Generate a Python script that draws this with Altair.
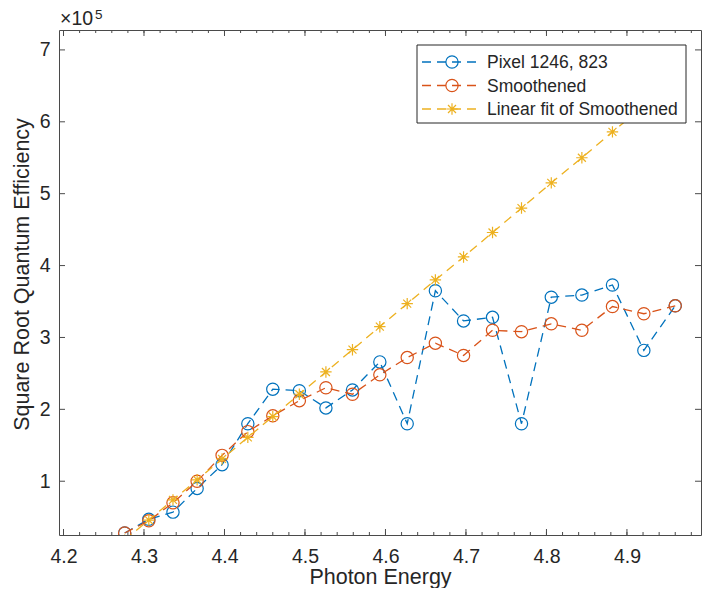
import altair as alt
import pandas as pd

# ---------------- data ----------------
energy = [4.276, 4.306, 4.336, 4.366, 4.397, 4.429, 4.460, 4.493, 4.526, 4.559, 4.593,
          4.627, 4.662, 4.697, 4.733, 4.769, 4.806, 4.844, 4.882, 4.921, 4.960]
pixel = [28000, 47000, 57000, 90000, 123000, 180000, 228000, 226000, 202000, 227000, 266000,
         180000, 365000, 323000, 328000, 180000, 356000, 359000, 373000, 282000, 344000]
smoothed = [28000, 45000, 70000, 100000, 136000, 169000, 191000, 212000, 230000, 221000, 248000,
            272000, 292000, 275000, 310000, 308000, 319000, 310000, 343000, 333000, 344000]
linear_fit = [18000, 46000, 74000, 102000, 131000, 161000, 190000, 221000, 252000, 283000, 315000,
              347000, 380000, 412000, 446000, 480000, 515000, 550000, 586000, 622000, 659000]

series_names = ["Pixel 1246, 823", "Smoothened", "Linear fit of Smoothened"]
series_colors = ["#0072BD", "#D95319", "#EDB120"]

x_major = [4.2, 4.3, 4.4, 4.5, 4.6, 4.7, 4.8, 4.9]
x_minor = [round(4.2 + 0.02 * i, 2) for i in range(40)]
y_major = [100000, 200000, 300000, 400000, 500000, 600000, 700000]

# ---------------- layout / style ----------------
W, H = 642, 505
FONT = "Liberation Sans"
TXT = "#262626"
AX = "#4a4a4a"
STAR = "M0,-1L0,1M-1,0L1,0M-0.7,-0.7L0.7,0.7M-0.7,0.7L0.7,-0.7"
shapes = ["circle", "circle", STAR]

xs = alt.Scale(domain=[4.1944, 4.992], nice=False, zero=False)
ys = alt.Scale(domain=[25200, 727700], nice=False, zero=False)

rows = []
for name, vals in zip(series_names, [pixel, smoothed, linear_fit]):
    for e, v in zip(energy, vals):
        rows.append({"energy": e, "value": v, "series": name})
df = pd.DataFrame(rows)

x_axis = alt.Axis(values=x_major, format=".1f", ticks=False, tickSize=0, domain=False, grid=False,
                  labelFont=FONT, labelFontSize=19.5, labelColor=TXT, labelPadding=12,
                  labelFlush=False, labelOverlap=False,
                  title="Photon Energy", titleFont=FONT, titleFontSize=21.5, titleFontWeight="normal",
                  titleColor=TXT, titleBaseline="alphabetic", titleY=48, titlePadding=0)
y_axis = alt.Axis(values=y_major, labelExpr="datum.value / 100000", ticks=False, tickSize=0,
                  domain=False, grid=False,
                  labelFont=FONT, labelFontSize=19.5, labelColor=TXT, labelPadding=9,
                  labelFlush=False, labelOverlap=False,
                  title="Square Root Quantum Efficiency", titleFont=FONT, titleFontSize=21.5,
                  titleFontWeight="normal", titleColor=TXT, titleAngle=270,
                  titleBaseline="alphabetic", titleX=-31, titleY=244, titlePadding=0)


def X(field):
    return alt.X(field, scale=xs, axis=x_axis)


def Y(field):
    return alt.Y(field, scale=ys, axis=y_axis)


layers = []
for i, (name, color, shp) in enumerate(zip(series_names, series_colors, shapes)):
    base = alt.Chart(df).transform_filter(alt.datum.series == name)
    line = base.mark_line(color=color, strokeWidth=1.3, strokeDash=[9, 6], clip=True).encode(
        x=X("energy:Q"), y=Y("value:Q"))
    pts = base.mark_point(shape=shp, size=150 if shp == "circle" else 130, filled=False,
                          color=color, strokeWidth=1.2, opacity=1, clip=True).encode(
        x=X("energy:Q"), y=Y("value:Q"))
    layers += [line, pts]

# ---------------- MATLAB-style inside ticks ----------------
xmaj = pd.DataFrame({"t": x_major})
xmin = pd.DataFrame({"t": x_minor})
ymaj = pd.DataFrame({"t": y_major})
tick_style = dict(color=AX, strokeWidth=1)
for d, ln in [(xmaj, 6), (xmin, 3)]:
    layers.append(alt.Chart(d).mark_rule(**tick_style).encode(
        x=X("t:Q"), y=alt.value(H), y2=alt.value(H - ln)))
    layers.append(alt.Chart(d).mark_rule(**tick_style).encode(
        x=X("t:Q"), y=alt.value(0), y2=alt.value(ln)))
layers.append(alt.Chart(ymaj).mark_rule(**tick_style).encode(
    y=Y("t:Q"), x=alt.value(0), x2=alt.value(6)))
layers.append(alt.Chart(ymaj).mark_rule(**tick_style).encode(
    y=Y("t:Q"), x=alt.value(W), x2=alt.value(W - 6)))

# ---------------- x10^5 exponent label ----------------
one = pd.DataFrame({"a": [0]})
layers.append(alt.Chart(one).mark_text(text="\u00d710", font=FONT, fontSize=19.5, color=TXT,
                                       align="left", baseline="alphabetic").encode(
    x=alt.value(1), y=alt.value(-5)))
layers.append(alt.Chart(one).mark_text(text="5", font=FONT, fontSize=13.5, color=TXT,
                                       align="left", baseline="alphabetic").encode(
    x=alt.value(36), y=alt.value(-11)))

# ---------------- legend (box + entries) ----------------
LX0, LX1, LY0, LY1 = 358, 627, 15, 93
layers.append(alt.Chart(one).mark_rect(fill="white", stroke=TXT, strokeWidth=1).encode(
    x=alt.value(LX0), x2=alt.value(LX1), y=alt.value(LY0), y2=alt.value(LY1)))
for i, (name, color, shp) in enumerate(zip(series_names, series_colors, shapes)):
    ry = 32 + 23.5 * i
    ent = alt.Chart(pd.DataFrame({"label": [name]}))
    layers.append(ent.mark_rule(color=color, strokeWidth=1.3, strokeDash=[9, 6]).encode(
        x=alt.value(363), x2=alt.value(423), y=alt.value(ry)))
    layers.append(ent.mark_point(shape=shp, size=150 if shp == "circle" else 130, filled=False,
                                 color=color, strokeWidth=1.2, opacity=1).encode(
        x=alt.value(393), y=alt.value(ry)))
    layers.append(ent.mark_text(font=FONT, fontSize=17.5, color=TXT, align="left",
                                baseline="middle").encode(
        x=alt.value(428), y=alt.value(ry + 1), text="label:N"))

chart = alt.layer(*layers).properties(
    width=W, height=H,
    padding={"left": 51, "top": 22, "right": 3, "bottom": 53},
    autosize=alt.AutoSizeParams(type="none"),
    background="white",
).configure_view(stroke=AX, strokeWidth=1)

chart.save("out.html", embed_options={"renderer": "svg", "actions": False})
